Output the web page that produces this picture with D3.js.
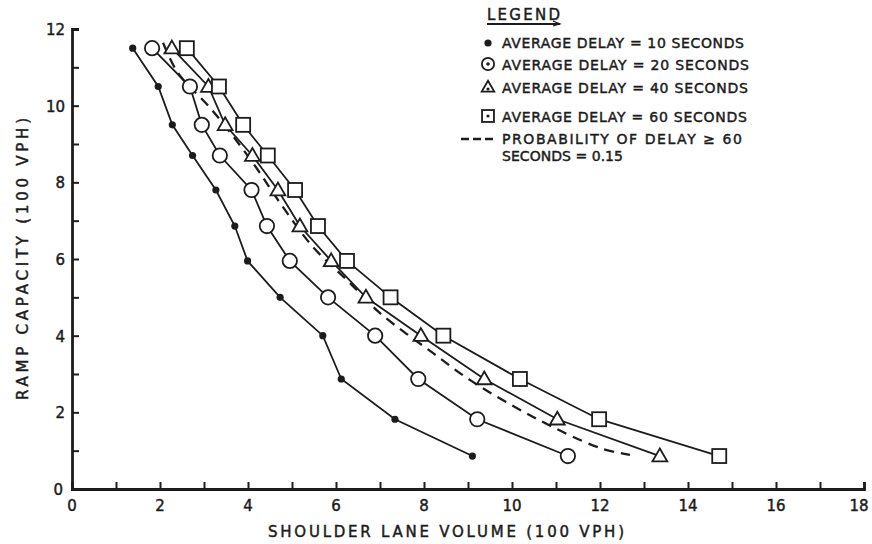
<!DOCTYPE html>
<html>
<head>
<meta charset="utf-8">
<script src="https://cdn.jsdelivr.net/npm/d3@7"></script>
<style>
  html, body { margin: 0; padding: 0; background: #fff; }
  svg { display: block; }
  text { font-family: "DejaVu Sans", "Liberation Sans", sans-serif; fill: #1c1c1c; stroke: #1c1c1c; stroke-width: 0.45px; }
</style>
</head>
<body>
<svg id="chart" width="872" height="544"></svg>
<script>
// ---------- data ----------
const capacity = [11.5, 10.5, 9.5, 8.7, 7.8, 6.86, 5.95, 5.0, 4.0, 2.87, 1.82, 0.86];
const delay10 = [1.38, 1.96, 2.28, 2.74, 3.27, 3.70, 3.99, 4.73, 5.70, 6.12, 7.34, 9.10];
const delay20 = [1.82, 2.68, 2.95, 3.36, 4.08, 4.43, 4.95, 5.82, 6.89, 7.87, 9.21, 11.27];
const delay40 = [2.27, 3.10, 3.48, 4.10, 4.68, 5.18, 5.89, 6.68, 7.93, 9.37, 11.03, 13.36];
const delay60 = [2.61, 3.34, 3.89, 4.45, 5.07, 5.59, 6.25, 7.24, 8.44, 10.18, 11.98, 14.71];
const probVolume = [2.07, 2.41, 3.18, 4.11, 4.73, 5.48, 6.25, 7.00, 8.20, 9.05, 10.48, 12.0, 12.68];
const probCapacity = [11.64, 10.85, 9.89, 8.51, 7.46, 6.31, 5.45, 4.59, 3.55, 2.84, 1.88, 1.07, 0.89];
const xTickValues = [0, 2, 4, 6, 8, 10, 12, 14, 16, 18];
const yTickValues = [0, 2, 4, 6, 8, 10, 12];
const legendLabels = [
  "AVERAGE  DELAY = 10 SECONDS",
  "AVERAGE  DELAY = 20 SECONDS",
  "AVERAGE  DELAY = 40 SECONDS",
  "AVERAGE  DELAY = 60 SECONDS",
  "PROBABILITY  OF  DELAY \u2265 60",
  "SECONDS = 0.15"
];

// ---------- layout ----------
const ink = "#1c1c1c";
const svg = d3.select("#chart");
const x = d3.scaleLinear().domain([0, 18]).range([72, 864]);
const y = d3.scaleLinear().domain([0, 12]).range([489, 29]);

// axes
const xAxis = d3.axisBottom(x).tickValues(d3.range(0, 19, 1)).tickSize(-7).tickFormat("");
const yAxis = d3.axisLeft(y).tickValues(d3.range(0, 13, 1)).tickSize(-7).tickFormat("");
const gx = svg.append("g").attr("transform", `translate(0,${y(0)})`).call(xAxis);
const gy = svg.append("g").attr("transform", `translate(${x(0)},0)`).call(yAxis);
[gx, gy].forEach(g => {
  g.select(".domain").attr("stroke", ink).attr("stroke-width", 2.8);
  g.selectAll(".tick line").attr("stroke", ink).attr("stroke-width", 2);
});

// tick labels
svg.append("g").selectAll("text").data(xTickValues).join("text")
  .attr("x", d => d === 18 ? x(d) - 5 : x(d)).attr("y", 511)
  .attr("text-anchor", "middle").attr("font-size", 15)
  .text(d => d);
svg.append("g").selectAll("text").data(yTickValues).join("text")
  .attr("x", d => d === 0 ? 63 : 65).attr("y", d => y(d) + 6)
  .attr("text-anchor", "end").attr("font-size", 15)
  .text(d => d);

// axis titles
svg.append("text")
  .attr("x", 446).attr("y", 537).attr("text-anchor", "middle")
  .attr("font-size", 15).attr("textLength", 356).attr("lengthAdjust", "spacing")
  .text("SHOULDER  LANE  VOLUME  (100  VPH)");
svg.append("text")
  .attr("transform", "translate(28,259) rotate(-90)")
  .attr("text-anchor", "middle")
  .attr("font-size", 15).attr("textLength", 282).attr("lengthAdjust", "spacing")
  .text("RAMP  CAPACITY  (100  VPH)");

// ---------- series ----------
const line = d3.line().x(d => x(d[0])).y(d => y(d[1]));
const series = [
  { vals: delay10, shape: "dot" },
  { vals: delay20, shape: "circle" },
  { vals: delay40, shape: "triangle" },
  { vals: delay60, shape: "square" }
];

// dashed probability curve
const probPts = probVolume.map((v, i) => [v, probCapacity[i]]);
svg.append("path").datum(probPts)
  .attr("d", d3.line().x(d => x(d[0])).y(d => y(d[1])).curve(d3.curveCatmullRom))
  .attr("fill", "none").attr("stroke", ink).attr("stroke-width", 2.3)
  .attr("stroke-dasharray", "10,7");

series.forEach(s => {
  const pts = s.vals.map((v, i) => [v, capacity[i]]);
  svg.append("path").datum(pts).attr("d", line)
    .attr("fill", "none").attr("stroke", ink).attr("stroke-width", 1.8);
});

function drawMarker(g, shape, cx, cy, legend) {
  const k = legend ? 0.85 : 1;
  if (shape === "dot") {
    g.append("circle").attr("cx", cx).attr("cy", cy).attr("r", 3.6).attr("fill", ink);
  } else if (shape === "circle") {
    g.append("circle").attr("cx", cx).attr("cy", cy).attr("r", 7.2 * k)
      .attr("fill", "#fff").attr("stroke", ink).attr("stroke-width", 1.8);
    if (legend) g.append("circle").attr("cx", cx).attr("cy", cy).attr("r", 1.8).attr("fill", ink);
  } else if (shape === "triangle") {
    const sym = d3.symbol().type(d3.symbolTriangle).size(95 * k * k);
    g.append("path").attr("d", sym()).attr("transform", `translate(${cx},${cy + 1})`)
      .attr("fill", "#fff").attr("stroke", ink).attr("stroke-width", 1.8);
    if (legend) g.append("circle").attr("cx", cx).attr("cy", cy + 2).attr("r", 1.6).attr("fill", ink);
  } else if (shape === "square") {
    const h = 7 * k;
    g.append("rect").attr("x", cx - h).attr("y", cy - h).attr("width", 2 * h).attr("height", 2 * h)
      .attr("fill", "#fff").attr("stroke", ink).attr("stroke-width", 1.8);
    if (legend) g.append("circle").attr("cx", cx).attr("cy", cy).attr("r", 1.6).attr("fill", ink);
  }
}

series.forEach(s => {
  const g = svg.append("g");
  s.vals.forEach((v, i) => drawMarker(g, s.shape, x(v), y(capacity[i]), false));
});

// ---------- legend ----------
const lg = svg.append("g");
lg.append("text").attr("x", 487).attr("y", 20).attr("font-size", 15)
  .attr("textLength", 73).attr("lengthAdjust", "spacing").text("LEGEND");
lg.append("line").attr("x1", 487).attr("x2", 560).attr("y1", 24).attr("y2", 24)
  .attr("stroke", ink).attr("stroke-width", 2);
lg.append("path").attr("d", "M553,21 L560,24 L553,26")
  .attr("fill", "none").attr("stroke", ink).attr("stroke-width", 1.2);

const legendRows = [
  { shape: "dot", cy: 43, by: 48, len: 242 },
  { shape: "circle", cy: 64, by: 70, len: 247 },
  { shape: "triangle", cy: 87, by: 93, len: 246 },
  { shape: "square", cy: 116, by: 122, len: 245 }
];
legendRows.forEach((r, i) => {
  drawMarker(lg, r.shape, 488, r.cy, true);
  lg.append("text").attr("x", 502).attr("y", r.by).attr("font-size", 14)
    .attr("textLength", r.len).attr("lengthAdjust", "spacing").text(legendLabels[i]);
});
lg.append("line").attr("x1", 461).attr("x2", 493).attr("y1", 139).attr("y2", 139)
  .attr("stroke", ink).attr("stroke-width", 2.3).attr("stroke-dasharray", "8,4");
lg.append("text").attr("x", 502).attr("y", 144).attr("font-size", 14)
  .attr("textLength", 240).attr("lengthAdjust", "spacing").text(legendLabels[4]);
lg.append("text").attr("x", 502).attr("y", 161).attr("font-size", 14)
  .attr("textLength", 121).attr("lengthAdjust", "spacing").text(legendLabels[5]);
</script>
</body>
</html>
